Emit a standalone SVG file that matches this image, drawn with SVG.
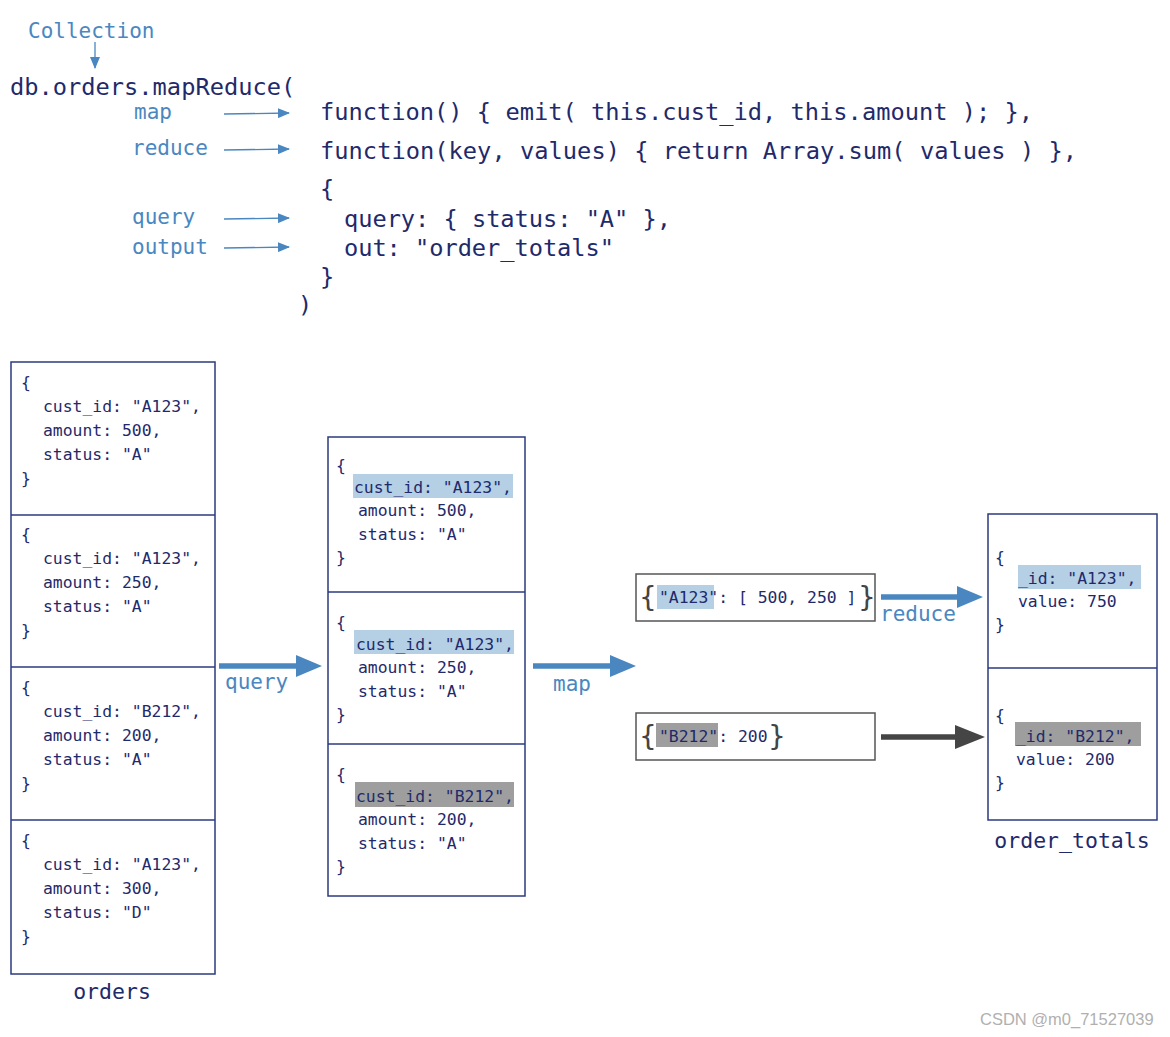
<svg xmlns="http://www.w3.org/2000/svg" width="1170" height="1037" viewBox="0 0 1170 1037">
<style>
.code{font-family:"DejaVu Sans Mono","Liberation Mono",monospace;fill:#1f2a6b;}
.top{font-size:23.7px;}
.doc{font-size:16.4px;}
.lbl{font-family:"DejaVu Sans Mono","Liberation Mono",monospace;fill:#4a87c0;font-size:21px;}
.box{fill:#fff;stroke:#2b3a80;stroke-width:1.5;}
.div{stroke:#2b3a80;stroke-width:1.5;}
.gbox{fill:#fff;stroke:#555;stroke-width:1.5;}
.hb{fill:#b5cfe5;}
.hg{fill:#9e9e9e;}
.thin{stroke:#4a87c0;stroke-width:1.3;fill:none;}
.thick{stroke:#4a87c0;stroke-width:5.5;fill:none;}
.dark{stroke:#454545;stroke-width:5.5;fill:none;}
.brace{font-family:"DejaVu Sans","Liberation Sans",sans-serif;font-size:28px;fill:#444;}
.cap{font-family:"DejaVu Sans Mono","Liberation Mono",monospace;fill:#1f2a6b;font-size:21.5px;}
</style>
<defs>
<marker id="ah" markerWidth="12" markerHeight="10" refX="11" refY="5" orient="auto" markerUnits="userSpaceOnUse"><path d="M0,0 L12,5 L0,10 Z" fill="#4a87c0"/></marker>
<marker id="bh" markerWidth="26" markerHeight="22" refX="2" refY="11" orient="auto" markerUnits="userSpaceOnUse"><path d="M0,0 L26,11 L0,22 Z" fill="#4a87c0"/></marker>
<marker id="dh" markerWidth="30" markerHeight="24" refX="2" refY="12" orient="auto" markerUnits="userSpaceOnUse"><path d="M0,0 L30,12 L0,24 Z" fill="#454545"/></marker>
</defs>
<rect width="1170" height="1037" fill="#fff"/>

<g id="header">
<text class="lbl" x="28" y="38">Collection</text>
<text class="code top" x="10" y="95">db.orders.mapReduce(</text>
<text class="lbl" x="134" y="119">map</text>
<text class="lbl" x="132" y="155">reduce</text>
<text class="lbl" x="132" y="224">query</text>
<text class="lbl" x="132" y="254">output</text>
<text class="code top" x="320" y="120" textLength="713">function() { emit( this.cust_id, this.amount ); },</text>
<text class="code top" x="320" y="159" textLength="757">function(key, values) { return Array.sum( values ) },</text>
<text class="code top" x="320" y="197">{</text>
<text class="code top" x="344" y="227" textLength="327">query: { status: "A" },</text>
<text class="code top" x="344" y="256" textLength="270">out: "order_totals"</text>
<text class="code top" x="320" y="285">}</text>
<text class="code top" x="298" y="313">)</text>
</g>

<g id="orders">
<rect class="box" x="11" y="362" width="204" height="612"/>
<line class="div" x1="11" y1="515" x2="215" y2="515"/>
<line class="div" x1="11" y1="667" x2="215" y2="667"/>
<line class="div" x1="11" y1="820" x2="215" y2="820"/>
<g class="code doc">
<text x="21" y="388">{</text><text x="43" y="412">cust_id: "A123",</text><text x="43" y="436">amount: 500,</text><text x="43" y="460">status: "A"</text><text x="21" y="484">}</text>
<text x="21" y="540">{</text><text x="43" y="564">cust_id: "A123",</text><text x="43" y="588">amount: 250,</text><text x="43" y="612">status: "A"</text><text x="21" y="636">}</text>
<text x="21" y="693">{</text><text x="43" y="717">cust_id: "B212",</text><text x="43" y="741">amount: 200,</text><text x="43" y="765">status: "A"</text><text x="21" y="789">}</text>
<text x="21" y="846">{</text><text x="43" y="870">cust_id: "A123",</text><text x="43" y="894">amount: 300,</text><text x="43" y="918">status: "D"</text><text x="21" y="942">}</text>
</g>
<text class="cap" x="112" y="999" text-anchor="middle">orders</text>
</g>

<g id="filtered">
<rect class="box" x="328" y="437" width="197" height="459"/>
<line class="div" x1="328" y1="592" x2="525" y2="592"/>
<line class="div" x1="328" y1="744" x2="525" y2="744"/>
<rect class="hb" x="353" y="474" width="160" height="24"/>
<rect class="hb" x="354" y="630" width="160" height="24"/>
<rect class="hg" x="355" y="782" width="159" height="25"/>
<g class="code doc">
<text x="336" y="471">{</text><text x="354" y="493">cust_id: "A123",</text><text x="358" y="516">amount: 500,</text><text x="358" y="540">status: "A"</text><text x="336" y="563">}</text>
<text x="336" y="628">{</text><text x="356" y="650">cust_id: "A123",</text><text x="358" y="673">amount: 250,</text><text x="358" y="697">status: "A"</text><text x="336" y="720">}</text>
<text x="336" y="780">{</text><text x="356" y="802">cust_id: "B212",</text><text x="358" y="825">amount: 200,</text><text x="358" y="849">status: "A"</text><text x="336" y="872">}</text>
</g>
</g>

<g id="emitA">
<rect class="gbox" x="636" y="574" width="239" height="47"/>
<rect class="hb" x="657" y="585" width="57" height="24"/>
<text class="brace" x="639" y="607">{</text>
<text class="code doc" x="659" y="603">"A123": [ 500, 250 ]</text>
<text class="brace" x="858" y="607">}</text>
</g>

<g id="emitB">
<rect class="gbox" x="636" y="713" width="239" height="47"/>
<rect class="hg" x="656" y="723" width="62" height="24"/>
<text class="brace" x="639" y="746">{</text>
<text class="code doc" x="659" y="742">"B212": 200</text>
<text class="brace" x="768" y="746">}</text>
</g>

<g id="order_totals">
<rect class="box" x="988" y="514" width="169" height="306"/>
<line class="div" x1="988" y1="668" x2="1157" y2="668"/>
<rect class="hb" x="1018" y="565" width="123" height="24"/>
<rect class="hg" x="1015" y="722" width="126" height="24"/>
<g class="code doc">
<text x="995" y="563">{</text><text x="1018" y="584">_id: "A123",</text><text x="1018" y="607">value: 750</text><text x="995" y="630">}</text>
<text x="995" y="721">{</text><text x="1016" y="742">_id: "B212",</text><text x="1016" y="765">value: 200</text><text x="995" y="788">}</text>
</g>
<text class="cap" x="1072" y="848" text-anchor="middle">order_totals</text>
</g>

<g id="connectors">
<line class="thin" x1="95" y1="42" x2="95" y2="68" marker-end="url(#ah)"/>
<line class="thin" x1="224" y1="114" x2="289" y2="113" marker-end="url(#ah)"/>
<line class="thin" x1="224" y1="150" x2="289" y2="149" marker-end="url(#ah)"/>
<line class="thin" x1="224" y1="219" x2="289" y2="218" marker-end="url(#ah)"/>
<line class="thin" x1="224" y1="248" x2="289" y2="247" marker-end="url(#ah)"/>
<line class="thick" x1="219" y1="666" x2="298" y2="666" marker-end="url(#bh)"/>
<text class="lbl" x="225" y="689">query</text>
<line class="thick" x1="533" y1="666" x2="612" y2="666" marker-end="url(#bh)"/>
<text class="lbl" x="553" y="691">map</text>
<line class="thick" x1="881" y1="597" x2="959" y2="597" marker-end="url(#bh)"/>
<text class="lbl" x="880" y="621">reduce</text>
<line class="dark" x1="881" y1="737" x2="957" y2="737" marker-end="url(#dh)"/>
</g>

<text x="980" y="1025" font-family="Liberation Sans, Arial, sans-serif" font-size="16.5" fill="#b0b0b0">CSDN @m0_71527039</text>
</svg>
